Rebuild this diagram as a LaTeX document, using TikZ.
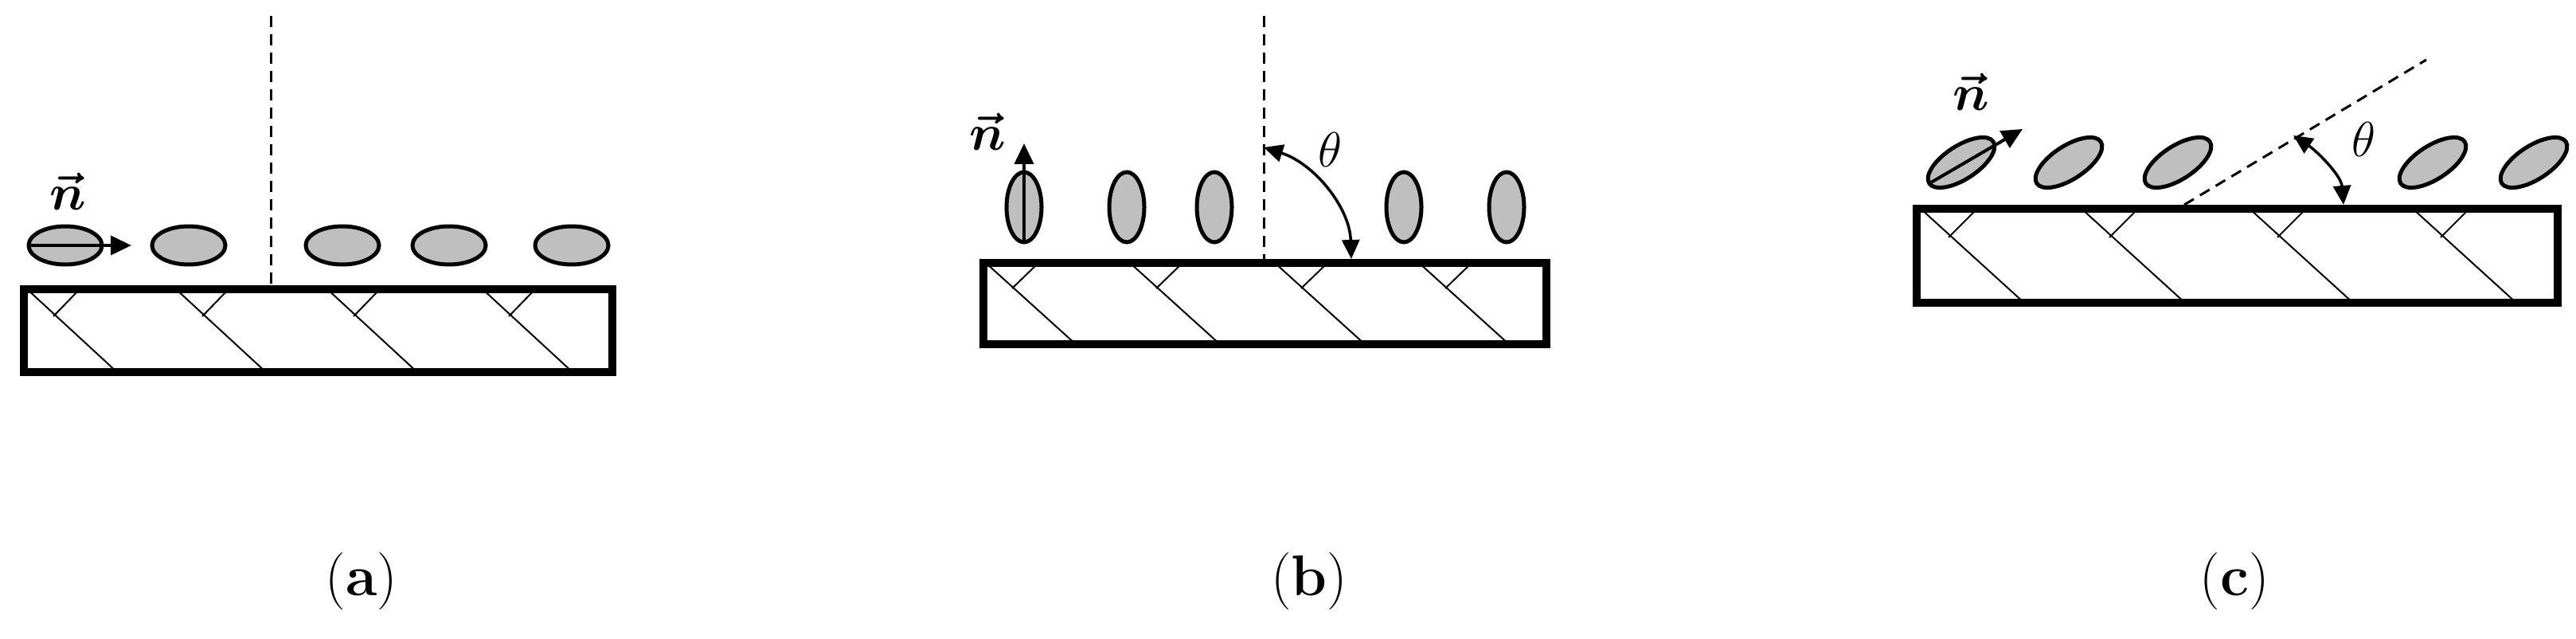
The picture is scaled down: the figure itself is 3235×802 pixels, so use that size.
\RequirePackage{fix-cm}
\documentclass[tikz,border=0pt]{standalone}
\usepackage{amsmath,bm}
\usetikzlibrary{arrows.meta}
\begin{document}
\begin{tikzpicture}[x=1pt,y=-1pt,
  base/.style={line width=10pt},
  hatch/.style={line width=2pt},
  mol/.style={line width=5pt,fill=black!25},
  dsh/.style={line width=3pt,dash pattern=on 14pt off 9pt},
  vec/.style={line width=4pt,-{Triangle[length=26pt,width=24pt]}},
  ang/.style={line width=3.5pt,{Triangle[length=24pt,width=22pt]}-{Triangle[length=24pt,width=22pt]}},
  lab/.style={font=\fontsize{72}{76}\selectfont},
  nlab/.style={font=\fontsize{64}{64}\selectfont},
  tlab/.style={font=\fontsize{62}{62}\selectfont}]
\useasboundingbox (0,0) rectangle (3235,802);
% ---------- (a)
\foreach \s in {33,220,410,605}{
  \draw[hatch] (\s,362) -- (\s+148-33,468);
  \draw[hatch] (\s+34,397) -- (\s+68,362);}
\draw[base] (30,363) rectangle (769,467);
\draw[dsh] (340,20) -- (340,358);
\foreach \c in {82,237,430,564,718}{\draw[mol] (\c,308) ellipse (46 and 24);}
\coordinate (aS) at (35,308); \coordinate (aT) at (165,308);
\draw[vec] (aS) -- (aT);
\node[nlab] (na) at (85,240) {$\boldsymbol{\vec{n}}$};
\node[lab] (la) at (454,730) {(\textbf{a})};
% ---------- (b)
\foreach \s in {1238,1419,1601,1782}{
  \draw[hatch] (\s,330) -- (\s+114,433);
  \draw[hatch] (\s+33,362) -- (\s+66,330);}
\draw[base] (1235,330) rectangle (1942,432);
\draw[dsh] (1587,20) -- (1587,325);
\foreach \c in {1286,1415,1525,1763,1892}{\draw[mol] (\c,260) ellipse (22 and 44);}
\coordinate (bS) at (1286,305); \coordinate (bT) at (1286,180);
\draw[vec] (bS) -- (bT);
\coordinate (b1) at (1587,185); \coordinate (b2) at (1697,325);
\draw[ang] (b1) .. controls (1650,205) and (1695,260) .. (b2);
\node[nlab] (nb) at (1240,165) {$\boldsymbol{\vec{n}}$};
\node[tlab] (tb) at (1670,188) {$\theta$};
\node[lab] (lb) at (1644,730) {(\textbf{b})};
% ---------- (c)
\foreach \s in {2412,2614,2825,3030}{
  \draw[hatch] (\s,262) -- (\s+131,381);
  \draw[hatch] (\s+35,298) -- (\s+71,262);}
\draw[base] (2407,262) rectangle (3212,380);
\draw[dsh] (2743,257) -- (3047,75);
\foreach \c in {2463,2598,2735,3055,3182}{\draw[mol,rotate around={33:(\c,204)}] (\c,204) ellipse (48 and 21);}
\coordinate (cS) at (2425,229); \coordinate (cT) at (2540,162);
\draw[vec] (cS) -- (cT);
\coordinate (c1) at (2880,170); \coordinate (c2) at (2943,257);
\draw[ang] (c1) .. controls (2910,190) and (2940,220) .. (c2);
\node[nlab] (nc) at (2475,115) {$\boldsymbol{\vec{n}}$};
\node[tlab] (tc) at (2968,175) {$\theta$};
\node[lab] (lc) at (2806,730) {(\textbf{c})};
\end{tikzpicture}
\end{document}
